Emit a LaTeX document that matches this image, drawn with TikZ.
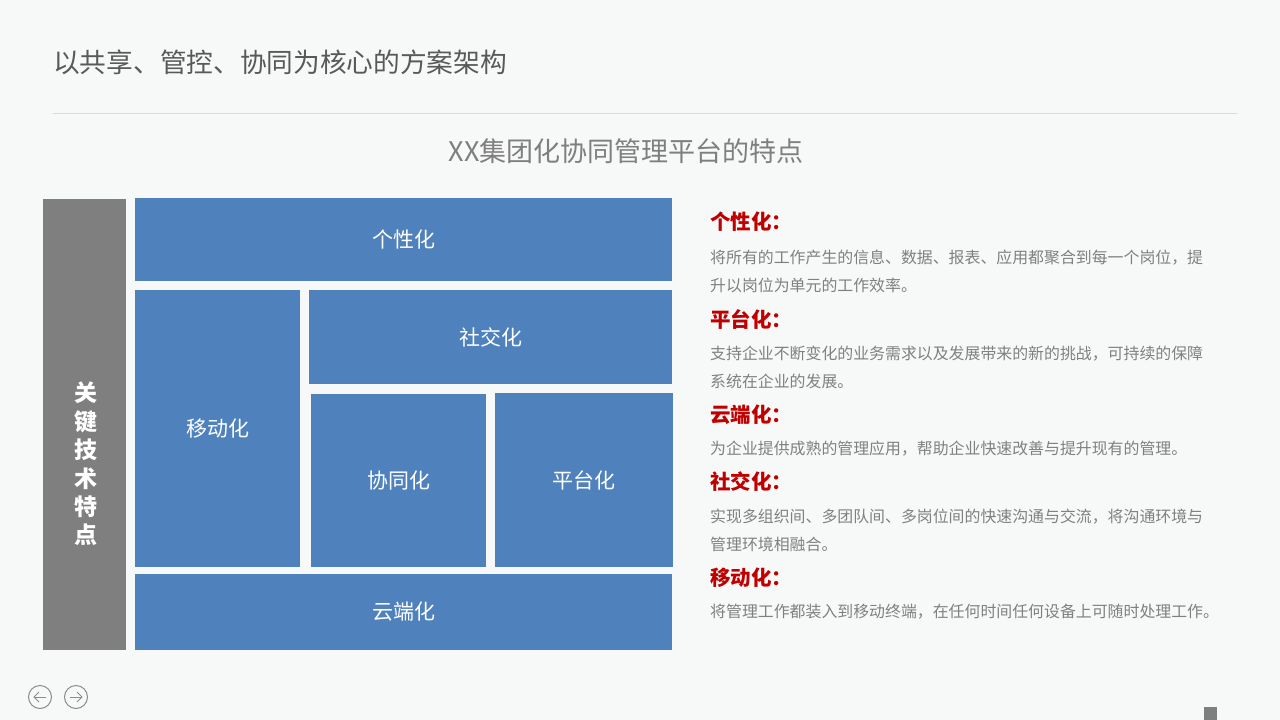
\documentclass[tikz,border=0pt]{standalone}
\usepackage{fontspec}
\setmainfont{Noto Sans CJK SC}
\usetikzlibrary{arrows.meta}
\definecolor{bg}{HTML}{F7F8F8}
\definecolor{blk}{HTML}{4F81BD}
\definecolor{sidegray}{HTML}{7F7F7F}
\definecolor{titlegray}{HTML}{595959}
\definecolor{subgray}{HTML}{7F7F7F}
\definecolor{bodygray}{HTML}{808080}
\definecolor{headred}{HTML}{C00000}
\definecolor{rulegray}{HTML}{D9D9D9}
\tikzset{
  box/.style={fill=blk, inner sep=0pt, outer sep=0pt, anchor=north west, text=white, font=\fontsize{21}{24}\selectfont},
  head/.style={anchor=west, inner sep=0pt, text=headred, font=\fontsize{20.5}{24}\selectfont\bfseries},
  body/.style={anchor=north west, inner sep=0pt, text=bodygray, align=left, font=\fontsize{15.9}{28}\selectfont},
  navicon/.style={draw=gray!90, line width=1pt}
}
\begin{document}
\begin{tikzpicture}[x=1pt,y=-1pt]
\fill[bg] (0,0) rectangle (1280,720);
\useasboundingbox (0,0) rectangle (1280,720);
% title
\node[anchor=west, inner sep=0pt, text=titlegray, font=\fontsize{26.7}{30}\selectfont] (title) at (53,62) {以共享、管控、协同为核心的方案架构};
\draw[rulegray, line width=0.8pt] (53,113) -- (1237,113);
\node[inner sep=0pt, text=subgray, font=\fontsize{27}{30}\selectfont] (sub) at (626,151) {XX集团化协同管理平台的特点};
% side bar
\node[fill=sidegray, inner sep=0pt, outer sep=0pt, anchor=north west, minimum width=83pt, minimum height=451pt] (side) at (43,199) {};
\node[text=white, align=center, font=\fontsize{23}{28.4}\selectfont\bfseries, inner sep=0pt] (sidetxt) at (86,464) {关\\键\\技\\术\\特\\点};
% blocks
\node[box, minimum width=537pt, minimum height=83pt] (gx) at (135,198) {个性化};
\node[box, minimum width=165pt, minimum height=277pt] (yd) at (135,290) {移动化};
\node[box, minimum width=363pt, minimum height=94pt] (sj) at (309,290) {社交化};
\node[box, minimum width=175pt, minimum height=173pt] (xt) at (311,394) {协同化};
\node[box, minimum width=178pt, minimum height=174pt] (pt) at (495,393) {平台化};
\node[box, minimum width=537pt, minimum height=76pt] (yu) at (135,574) {云端化};
% right text
\node[head] (h1) at (710,222) {个性化：};
\node[body] (b1) at (710,250) {将所有的工作产生的信息、数据、报表、应用都聚合到每一个岗位，提\\升以岗位为单元的工作效率。};
\node[head] (h2) at (710,319) {平台化：};
\node[body] (b2) at (710,346) {支持企业不断变化的业务需求以及发展带来的新的挑战，可持续的保障\\系统在企业的发展。};
\node[head] (h3) at (710,415) {云端化：};
\node[body] (b3) at (710,441) {为企业提供成熟的管理应用，帮助企业快速改善与提升现有的管理。};
\node[head] (h4) at (710,482) {社交化：};
\node[body] (b4) at (710,509) {实现多组织间、多团队间、多岗位间的快速沟通与交流，将沟通环境与\\管理环境相融合。};
\node[head] (h5) at (710,578) {移动化：};
\node[body] (b5) at (710,604) {将管理工作都装入到移动终端，在任何时间任何设备上可随时处理工作。};
% nav icons
\draw[navicon] (40,697) circle (11.5);
\draw[navicon] (46,697) -- (34,697);
\draw[navicon] (39,692) -- (34,697) -- (39,702);
\draw[navicon] (76,697) circle (11.5);
\draw[navicon] (70,697) -- (82,697);
\draw[navicon] (77,692) -- (82,697) -- (77,702);
% corner square
\fill[sidegray] (1204,707) rectangle (1217,720);
\end{tikzpicture}
\end{document}
